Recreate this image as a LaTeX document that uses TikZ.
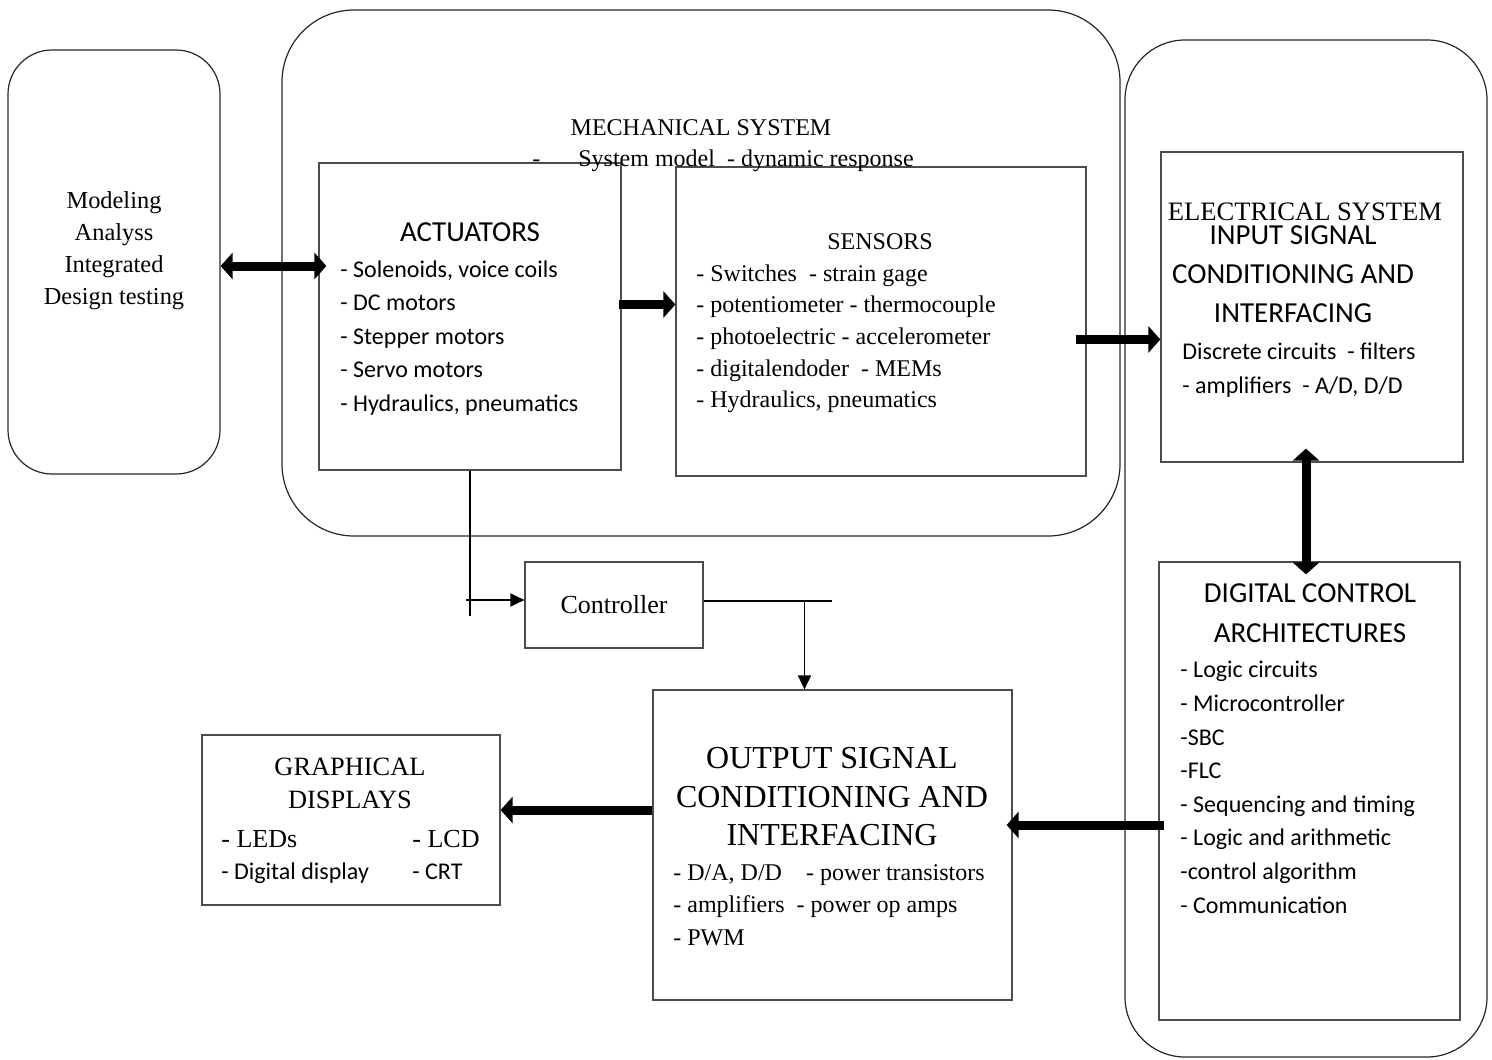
\documentclass[tikz,border=0pt]{standalone}
\usepackage{fontspec}
\setmainfont{Liberation Serif}
\newfontfamily\calibri{Carlito}
\usetikzlibrary{arrows.meta,positioning,fit}
\tikzset{panel/.style={draw=black!85,line width=0.6pt,inner sep=0pt},
		block/.style={draw=black!70,line width=0.6pt,inner sep=0pt},
		fat/.style={line width=4.5pt,-{Triangle[length=6pt,width=13pt]}},
		fatboth/.style={line width=4.5pt,{Triangle[length=6pt,width=13pt]}-{Triangle[length=6pt,width=13pt]}},
		sig/.style={line width=0.85pt,-{Triangle[length=7pt,width=6.5pt]}},
		items/.style={align=left,anchor=north west},
		heads/.style={align=center,anchor=north}}

\begin{document}
\begin{tikzpicture}[x=0.5pt,y=-0.5pt,inner sep=0pt,font=\fontsize{12}{16}\selectfont]
		\useasboundingbox (0,0) rectangle (1492,1059);
		% outer panels
		\node[panel,rounded corners=22pt,fit={(8,50) (220,474)}] (model) {};
		\node[panel,rounded corners=36pt,fit={(282,10) (1120,536)}] (mech) {};
		\node[panel,rounded corners=30pt,fit={(1125,40) (1487,1057)}] (elec) {};
		% inner blocks
		\node[block,fit={(319,163) (621,470)}] (act) {};
		\node[block,fit={(676,167) (1086,476)}] (sens) {};
		\node[block,fit={(1161,152) (1463,462)}] (inp) {};
		\node[block,fit={(1159,562) (1460,1020)}] (dig) {};
		\node[block,fit={(525,562) (703,648)}] (ctrl) {};
		\node[block,fit={(653,690) (1012,1000)}] (out) {};
		\node[block,fit={(202,735) (500,905)}] (disp) {};

		\node[align=center,font=\fontsize{12.2}{16}\selectfont] (model-txt) at ([yshift=5.5pt]model.center) {Modeling\\Analyss\\Integrated\\Design testing};
		\node (mech-title) at (701,128) {MECHANICAL SYSTEM};
		\node[anchor=base west] (mech-sub) at (532,167) {-\hspace{19pt}System model\hspace{6pt}- dynamic response};

		\node[font=\calibri\fontsize{14.5}{17}\selectfont] (act-title) at (470,232) {ACTUATORS};
		\node[items,font=\calibri\fontsize{12}{16.75}\selectfont] (act-list) at (340,260) {- Solenoids, voice coils\\- DC motors\\- Stepper motors\\- Servo motors\\- Hydraulics, pneumatics};

		\node (sens-title) at (880,242) {SENSORS};
		\node[items,font=\fontsize{12}{15.85}\selectfont] (sens-list) at (696,264) {- Switches\ \ - strain gage\\- potentiometer - thermocouple\\- photoelectric - accelerometer\\- digitalendoder\ \ - MEMs\\- Hydraulics, pneumatics};

		\node[font=\fontsize{13.3}{16}\selectfont] (elec-title) at (1305,212) {ELECTRICAL SYSTEM};
		\node[heads,font=\calibri\fontsize{14.5}{19.5}\selectfont] (inp-title) at (1293,225) {INPUT SIGNAL\\CONDITIONING AND\\INTERFACING};
		\node[items,font=\calibri\fontsize{12}{17}\selectfont] (inp-list) at (1182,342) {Discrete circuits\ \ - filters\\- amplifiers\ \ - A/D, D/D};

		\node[heads,font=\calibri\fontsize{14.5}{20}\selectfont] (dig-title) at (1310,583) {DIGITAL CONTROL\\ARCHITECTURES};
		\node[items,font=\calibri\fontsize{12}{16.8}\selectfont] (dig-list) at (1180,661) {- Logic circuits\\- Microcontroller\\-SBC\\-FLC\\- Sequencing and timing\\- Logic and arithmetic\\-control algorithm\\- Communication};

		\node[font=\fontsize{13}{16}\selectfont] (ctrl-txt) at (ctrl.center) {Controller};

		\node[heads,font=\fontsize{16}{19.25}\selectfont] (out-title) at (832,747) {OUTPUT SIGNAL\\CONDITIONING AND\\INTERFACING};
		\node[items,font=\fontsize{12}{16.25}\selectfont] (out-list) at (673,864) {- D/A, D/D\hspace{12pt}- power transistors\\- amplifiers\ \ - power op amps\\- PWM};

		\node[heads,font=\fontsize{13.2}{16.5}\selectfont] (disp-title) at (350,758) {GRAPHICAL\\DISPLAYS};
		\node[anchor=base west,font=\fontsize{13}{16}\selectfont] (leds) at (221,847) {- LEDs};
		\node[anchor=base west,font=\fontsize{13}{16}\selectfont] (lcd) at (412,847) {- LCD};
		\node[anchor=base west,font=\calibri\fontsize{12}{16}\selectfont] (digdisp) at (221,879) {- Digital display};
		\node[anchor=base west,font=\calibri\fontsize{12}{16}\selectfont] (crt) at (412,879) {- CRT};

		% block arrows
		\draw[fatboth] ([yshift=-2pt]model.east) -- ([shift={(4pt,-2pt)}]model.east -| act.west);
		\draw[fat] ([shift={(-1.5pt,6pt)}]act.east) -- ([yshift=6pt]act.east -| sens.west);
		\draw[fat] ([shift={(-5.5pt,-9pt)}]sens.east) -- ([yshift=-9pt]sens.east -| inp.west);
		\draw[fatboth] ([shift={(-3pt,7pt)}]inp.south) -- ([shift={(-3pt,-6.5pt)}]inp.south |- dig.north);
		\draw[fat] ([shift={(3pt,-17pt)}]dig.west) -- ([shift={(-3pt,-17pt)}]dig.west -| out.east);
		\draw[fat] ([yshift=17.5pt]out.west) -- ([yshift=17.5pt]out.west -| disp.east);

		% controller loop
		\draw[line width=0.85pt] (act.south) -- ++(0,145);
		\draw[sig] ([shift={(-2pt,2.5pt)}]act.south |- ctrl.west) -- ([yshift=2.5pt]ctrl.west);
		\draw[line width=0.85pt] ([yshift=2pt]ctrl.east) -- ++(128,0);
		\draw[sig] ([shift={(-14pt,2pt)}]out.north |- ctrl.east) -- ([xshift=-14pt]out.north);
	\end{tikzpicture}
\end{document}
